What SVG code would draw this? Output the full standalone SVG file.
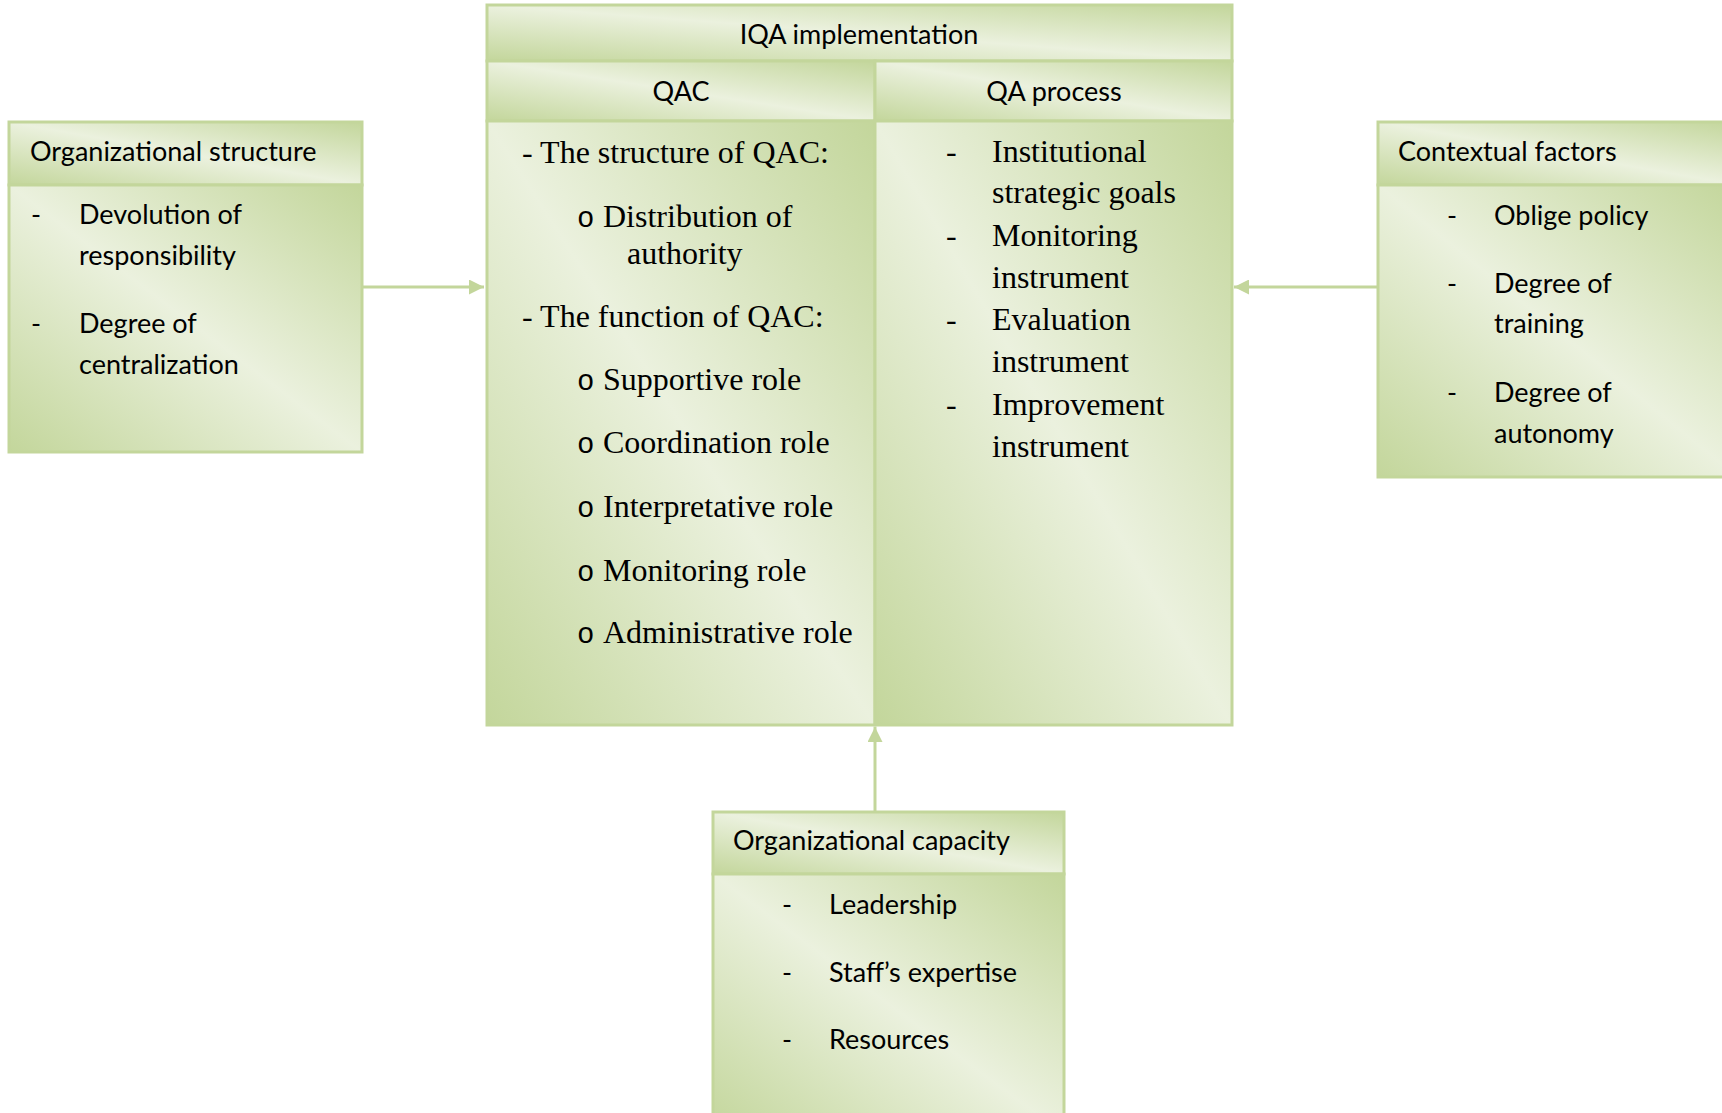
<svg xmlns="http://www.w3.org/2000/svg" width="1722" height="1113" viewBox="0 0 1722 1113">
<defs>
<linearGradient id="g" x1="1" y1="0" x2="0" y2="1">
<stop offset="0" stop-color="#c3d69b"/>
<stop offset="0.5" stop-color="#ebf1de"/>
<stop offset="1" stop-color="#c3d69b"/>
</linearGradient>
<marker id="ah" viewBox="0 0 10 10" refX="10" refY="5" markerWidth="5" markerHeight="5" orient="auto" markerUnits="strokeWidth">
<path d="M0,0 L10,5 L0,10 z" fill="#c3d69b"/>
</marker>
<style>
.box{fill:url(#g);stroke:#c3d69b;stroke-width:3}
.sans{font-family:Lato,"Open Sans","Liberation Sans",sans-serif;font-size:27px;fill:#000}
.serif{font-family:"Liberation Serif","Times New Roman",serif;font-size:32px;fill:#000}
.bul{font-family:"Liberation Mono","Courier New",monospace;font-size:29px;fill:#000}
.conn{stroke:#c3d69b;stroke-width:3;fill:none}
</style>
</defs>
<rect width="1722" height="1113" fill="#ffffff"/>

<g id="connectors">
<line class="conn" x1="362" y1="287" x2="484" y2="287" marker-end="url(#ah)"/>
<line class="conn" x1="1377" y1="287" x2="1234" y2="287" marker-end="url(#ah)"/>
<line class="conn" x1="875" y1="811" x2="875" y2="727" marker-end="url(#ah)"/>
</g>

<g id="org-structure">
<rect class="box" x="9" y="122" width="353" height="63"/>
<rect class="box" x="9" y="185" width="353" height="267"/>
<text class="sans" x="30" y="161">Organizational structure</text>
<text class="sans" x="31" y="224">-</text>
<text class="sans" x="79" y="224">Devolution of</text>
<text class="sans" x="79" y="265">responsibility</text>
<text class="sans" x="31" y="333">-</text>
<text class="sans" x="79" y="333">Degree of</text>
<text class="sans" x="79" y="374">centralization</text>
</g>

<g id="iqa-implementation">
<rect class="box" x="487" y="5" width="745" height="56"/>
<text class="sans" x="859" y="44" text-anchor="middle">IQA implementation</text>
</g>

<g id="qac">
<rect class="box" x="487" y="61" width="388" height="60"/>
<rect class="box" x="487" y="121" width="388" height="604"/>
<text class="sans" x="681" y="101" text-anchor="middle">QAC</text>
<text class="serif" x="522" y="163">- The structure of QAC:</text>
<text class="bul" x="577" y="227">o</text>
<text class="serif" x="603" y="227">Distribution of</text>
<text class="serif" x="627" y="264">authority</text>
<text class="serif" x="522" y="327">- The function of QAC:</text>
<text class="bul" x="577" y="390">o</text>
<text class="serif" x="603" y="390">Supportive role</text>
<text class="bul" x="577" y="453">o</text>
<text class="serif" x="603" y="453">Coordination role</text>
<text class="bul" x="577" y="517">o</text>
<text class="serif" x="603" y="517">Interpretative role</text>
<text class="bul" x="577" y="581">o</text>
<text class="serif" x="603" y="581">Monitoring role</text>
<text class="bul" x="577" y="643">o</text>
<text class="serif" x="603" y="643">Administrative role</text>
</g>

<g id="qa-process">
<rect class="box" x="875" y="61" width="357" height="60"/>
<rect class="box" x="875" y="121" width="357" height="604"/>
<text class="sans" x="1054" y="101" text-anchor="middle">QA process</text>
<text class="serif" x="946" y="162">-</text>
<text class="serif" x="992" y="162">Institutional</text>
<text class="serif" x="992" y="203">strategic goals</text>
<text class="serif" x="946" y="246">-</text>
<text class="serif" x="992" y="246">Monitoring</text>
<text class="serif" x="992" y="288">instrument</text>
<text class="serif" x="946" y="330">-</text>
<text class="serif" x="992" y="330">Evaluation</text>
<text class="serif" x="992" y="372">instrument</text>
<text class="serif" x="946" y="415">-</text>
<text class="serif" x="992" y="415">Improvement</text>
<text class="serif" x="992" y="457">instrument</text>
</g>

<g id="contextual-factors">
<rect class="box" x="1378" y="122" width="360" height="63"/>
<rect class="box" x="1378" y="185" width="360" height="292"/>
<text class="sans" x="1398" y="161">Contextual factors</text>
<text class="sans" x="1447" y="225">-</text>
<text class="sans" x="1494" y="225">Oblige policy</text>
<text class="sans" x="1447" y="293">-</text>
<text class="sans" x="1494" y="293">Degree of</text>
<text class="sans" x="1494" y="333">training</text>
<text class="sans" x="1447" y="402">-</text>
<text class="sans" x="1494" y="402">Degree of</text>
<text class="sans" x="1494" y="443">autonomy</text>
</g>

<g id="org-capacity">
<rect class="box" x="713" y="812" width="351" height="62"/>
<rect class="box" x="713" y="874" width="351" height="260"/>
<text class="sans" x="733" y="850">Organizational capacity</text>
<text class="sans" x="782" y="914">-</text>
<text class="sans" x="829" y="914">Leadership</text>
<text class="sans" x="782" y="982">-</text>
<text class="sans" x="829" y="982">Staff’s expertise</text>
<text class="sans" x="782" y="1049">-</text>
<text class="sans" x="829" y="1049">Resources</text>
</g>
</svg>
